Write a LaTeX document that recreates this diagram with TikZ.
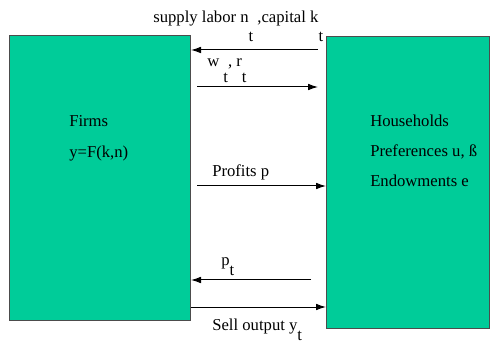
\documentclass[tikz,border=0pt]{standalone}
\usepackage{fontspec}
\setmainfont{Liberation Serif}
\usetikzlibrary{arrows.meta,positioning}
\definecolor{agentgreen}{RGB}{0,204,153}
\newcommand{\lowt}[1]{\raisebox{-#1}{t}}
\tikzset{
  agent/.style={draw=black!70, line width=0.75pt, fill=agentgreen, anchor=north west, inner sep=0pt},
  flow/.style={-{Latex[length=7.5pt,width=5pt]}, line width=0.75pt},
  lbl/.style={anchor=base west, inner sep=0pt, font=\fontsize{12.5}{15}\selectfont}
}

\begin{document}
\begin{tikzpicture}[x=0.75pt, y=-0.75pt, line cap=butt]
    \path[use as bounding box] (0,0) rectangle (496,345);
    \node[agent, minimum width=135.75pt, minimum height=213.75pt] (firms) at (9,35) {};
    \node[agent, minimum width=122.25pt, minimum height=219pt] (hh) at (326,36) {};
    \node[lbl] (firmsname) at (69,127) {Firms};
    \node[lbl] (prod) at (69,158) {y=F(k,n)};
    \node[lbl] (hhname) at (370,127) {Households};
    \node[lbl] (pref) at (370,157) {Preferences u, ß};
    \node[lbl] (endow) at (370,187) {Endowments e};
    \coordinate (r1) at (0,50);
    \coordinate (r2) at (0,87);
    \coordinate (r3) at (0,186);
    \coordinate (r4) at (0,280);
    \coordinate (r5) at (0,307);
    \draw[flow, shorten <=6pt] (hh.west |- r1) -- (firms.east |- r1);
    \node[lbl] (supply) at (153,23) {supply labor n\lowt{14pt}\ ,capital k\lowt{14pt}};
    \draw[flow, shorten <=4.5pt, shorten >=6pt] (firms.east |- r2) -- (hh.west |- r2);
    \node[lbl] (prices) at (207,67) {w \lowt{12pt}, r\lowt{12pt}};
    \draw[flow, shorten <=4.5pt] (firms.east |- r3) -- (hh.west |- r3);
    \node[lbl] (profits) at (212,177) {Profits p};
    \draw[flow, shorten <=11.25pt] (hh.west |- r4) -- (firms.east |- r4);
    \node[lbl] (price) at (221,266) {p\lowt{7.5pt}};
    \draw[flow] (firms.east |- r5) -- (hh.west |- r5);
    \node[lbl] (sell) at (212,330) {Sell output y\lowt{7.5pt}};
\end{tikzpicture}
\end{document}
